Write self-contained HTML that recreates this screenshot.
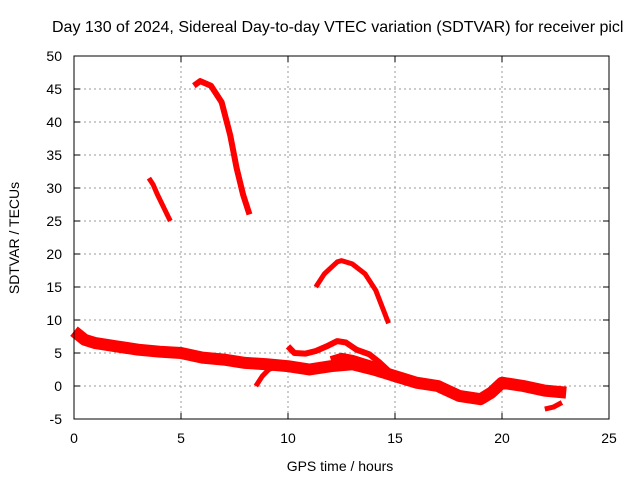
<!DOCTYPE html>
<html><head><meta charset="utf-8"><style>
body{margin:0;background:#fff;width:640px;height:480px;overflow:hidden}
svg text{font-family:"Liberation Sans",sans-serif;font-size:14px;fill:#000}
</style></head><body>
<svg width="640" height="480">
<g id="grid"></g>
<g id="series"></g>
<rect x="74" y="56" width="535" height="363" fill="none" stroke="#000" stroke-width="1"/>
<g id="ticks"></g>
<text x="52" y="32" style="font-size:16px">Day 130 of 2024, Sidereal Day-to-day VTEC variation (SDTVAR) for receiver picl</text>
<text x="340" y="471" text-anchor="middle">GPS time / hours</text>
<text x="19" y="238" text-anchor="middle" transform="rotate(-90 19 238)">SDTVAR / TECUs</text>
</svg>
<script>
const xTicks=[0,5,10,15,20,25];
const yTicks=[-5,0,5,10,15,20,25,30,35,40,45,50];
const track1X=[3.5,3.7,3.9,4.2,4.5];
const track1Y=[31.5,30.5,29,27,25];
const track2X=[5.6,5.9,6.4,6.9,7.3,7.6,7.9,8.2];
const track2Y=[45.5,46.2,45.5,43,38,33,29,26];
const track3X=[11.3,11.7,12.3,12.5,13,13.6,14.1,14.4,14.7];
const track3Y=[15,17,18.8,19,18.5,17,14.5,12,9.5];
const track4X=[10,10.3,10.8,11.3,11.8,12.3,12.7,13.2,13.8,14.3,14.8];
const track4Y=[6,5,4.9,5.3,6,6.8,6.6,5.5,4.8,3.5,2];
const mainX=[0,0.5,1,2,3,4,5,6,7,8,9,10,11,12,13,14,15,16,17,18,19,19.5,20,21,22,23];
const mainY=[8.3,7,6.5,6,5.5,5.2,5,4.3,4,3.5,3.3,3,2.5,3,3.3,2.5,1.5,0.5,0,-1.5,-2,-1,0.5,0,-0.7,-1];
const band2X=[12,12.5,13,13.5,14,14.5,15];
const band2Y=[4,4.5,4.2,3.7,3.2,2.3,1.5];
const track6X=[8.5,8.8,9.1,9.5];
const track6Y=[0,1.5,2.5,3];
const track7X=[22,22.4,22.8];
const track7Y=[-3.5,-3.2,-2.5];
const xs=v=>74+v*21.4, ys=v=>386-v*6.6;
const NS='http://www.w3.org/2000/svg';
const g=document.getElementById('grid'),t=document.getElementById('ticks'),s=document.getElementById('series');
function mk(tag,a,p){const e=document.createElementNS(NS,tag);for(const k in a)e.setAttribute(k,a[k]);p.appendChild(e);return e;}
xTicks.forEach(v=>{const x=xs(v);
 if(v>0&&v<25){const l=mk('line',{x1:x,x2:x,y1:56,y2:419,stroke:'#999','stroke-dasharray':'2,3'},g);
 
 }
 mk('line',{x1:x,x2:x,y1:419,y2:413,stroke:'#000'},t);mk('line',{x1:x,x2:x,y1:56,y2:62,stroke:'#000'},t);
 const tx=mk('text',{x:x,y:443,'text-anchor':'middle'},t);tx.textContent=v;
 
 });
yTicks.forEach(v=>{const y=ys(v);
 if(v>-5&&v<50){const l=mk('line',{x1:74,x2:609,y1:y,y2:y,stroke:'#999','stroke-dasharray':'2,3'},g);
 
 }
 mk('line',{x1:74,x2:80,y1:y,y2:y,stroke:'#000'},t);mk('line',{x1:603,x2:609,y1:y,y2:y,stroke:'#000'},t);
 const tx=mk('text',{x:62,y:y+5,'text-anchor':'end'},t);tx.textContent=v;
 
 });
function track(X,Y,w,name){
 const pts=X.map((x,i)=>xs(x)+','+ys(Y[i])).join(' ');
 const p=mk('polyline',{points:pts,fill:'none',stroke:'#f00','stroke-width':w,'stroke-linejoin':'round','stroke-linecap':'butt'},s);
 
 }
track(track1X,track1Y,5,'track-1');
track(track2X,track2Y,6,'track-2');
track(track3X,track3Y,5,'track-3');
track(track4X,track4Y,6,'track-4');
track(mainX,mainY,12,'main-band');
track(band2X,band2Y,7,'main-band-upper');
track(track6X,track6Y,5,'track-6');
track(track7X,track7Y,5,'track-7');
</script>
</body></html>
